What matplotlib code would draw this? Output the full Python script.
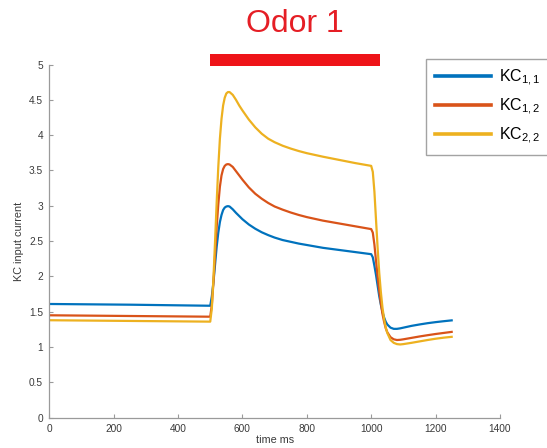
import matplotlib
matplotlib.use("Agg")
import matplotlib.pyplot as plt
from matplotlib.patches import Rectangle

plt.rcParams['font.family'] = ['Liberation Sans', 'DejaVu Sans']

# Time axis (ms) and simulated KC input currents
time_ms = [0, 250, 500, 505, 510, 515, 520, 525, 530, 535, 540, 545, 550, 555,
           560, 570, 580, 590, 600, 620, 640, 660, 680, 700, 725, 750, 775, 800,
           850, 900, 950, 1000, 1005, 1010, 1015, 1020, 1025, 1030, 1035, 1040,
           1045, 1050, 1060, 1070, 1080, 1090, 1100, 1125, 1150, 1175, 1200,
           1225, 1250]

kc_11 = [1.61, 1.60, 1.585, 1.72, 1.92, 2.17, 2.42, 2.62, 2.77, 2.87, 2.94,
         2.975, 2.99, 2.995, 2.99, 2.95, 2.90, 2.855, 2.81, 2.735, 2.675, 2.625,
         2.585, 2.55, 2.515, 2.49, 2.465, 2.445, 2.405, 2.375, 2.345, 2.315,
         2.27, 2.15, 2.02, 1.87, 1.72, 1.60, 1.50, 1.42, 1.36, 1.32, 1.275,
         1.258, 1.258, 1.265, 1.275, 1.30, 1.32, 1.338, 1.353, 1.366, 1.378]

kc_12 = [1.45, 1.44, 1.43, 1.60, 1.92, 2.30, 2.70, 3.02, 3.27, 3.43, 3.52,
         3.565, 3.585, 3.59, 3.585, 3.55, 3.49, 3.43, 3.37, 3.26, 3.17, 3.10,
         3.04, 2.99, 2.945, 2.905, 2.87, 2.84, 2.79, 2.75, 2.71, 2.67,
         2.62, 2.45, 2.22, 2.00, 1.80, 1.62, 1.47, 1.36, 1.27, 1.21, 1.14,
         1.11, 1.10, 1.103, 1.11, 1.13, 1.15, 1.168, 1.185, 1.20, 1.215]

kc_22 = [1.38, 1.37, 1.36, 1.55, 1.98, 2.50, 3.05, 3.55, 3.95, 4.23, 4.42,
         4.53, 4.59, 4.61, 4.61, 4.57, 4.50, 4.42, 4.35, 4.22, 4.11, 4.02,
         3.95, 3.90, 3.85, 3.81, 3.775, 3.745, 3.695, 3.65, 3.605, 3.565,
         3.48, 3.20, 2.80, 2.40, 2.05, 1.78, 1.56, 1.40, 1.28, 1.20, 1.10,
         1.06, 1.042, 1.037, 1.042, 1.06, 1.08, 1.10, 1.118, 1.133, 1.145]

series = [kc_11, kc_12, kc_22]
labels = [r'KC$_{\mathregular{1,1}}$', r'KC$_{\mathregular{1,2}}$', r'KC$_{\mathregular{2,2}}$']
colors = ['#0072BD', '#D95319', '#EDB120']

# Odor presentation window
odor_label = 'Odor 1'
odor_start, odor_end = 500, 1028

fig = plt.figure(figsize=(5.47, 4.48), dpi=100)
ax = fig.add_axes([0.0901, 0.0676, 0.914 - 0.0901, 0.856 - 0.0676])

lines = []
for vals, lab, col in zip(series, labels, colors):
    ln, = ax.plot(time_ms, vals, color=col, lw=1.6, label=lab,
                  solid_joinstyle='round')
    lines.append(ln)

ax.set_xlim(0, 1400)
ax.set_ylim(0, 5)
ax.set_xticks(range(0, 1401, 200))
ax.set_yticks([i * 0.5 for i in range(11)])
ax.set_yticklabels(['0', '0.5', '1', '1.5', '2', '2.5', '3', '3.5', '4', '4.5', '5'])

for side in ('top', 'right'):
    ax.spines[side].set_visible(False)
for side in ('left', 'bottom'):
    ax.spines[side].set_color('#9a9a9a')
    ax.spines[side].set_linewidth(0.9)

ax.tick_params(direction='in', length=3, width=0.8, color='#9a9a9a',
               labelsize=7.3, labelcolor='#3a3a3a', pad=4.5)

ax.set_xlabel('time ms', fontsize=7.8, color='#3a3a3a')
ax.set_ylabel('KC input current', fontsize=7.8, color='#3a3a3a')
ax.xaxis.set_label_coords(0.5, -0.05)
ax.yaxis.set_label_coords(-0.056, 0.5)

# Odor stimulus bar above the axes
ax.add_patch(Rectangle((odor_start, 4.98), odor_end - odor_start, 0.17,
                       facecolor='#EE1418', edgecolor='none', clip_on=False))
fig.text(295 / 547, 1 - 24.5 / 448, odor_label, color='#E51E25', fontsize=23,
         ha='center', va='center')

leg = fig.legend(handles=lines, loc='upper left',
                 bbox_to_anchor=(426 / 547, 1 - 59 / 448),
                 frameon=True, fancybox=False, fontsize=11.5,
                 handlelength=3.5, handletextpad=0.5, labelspacing=0.55,
                 borderpad=0.55, borderaxespad=0)
leg.get_frame().set_edgecolor('#8c8c8c')
leg.get_frame().set_linewidth(1.0)
for h in leg.legend_handles:
    h.set_linewidth(2.6)

fig.savefig('out.png', dpi=100)
